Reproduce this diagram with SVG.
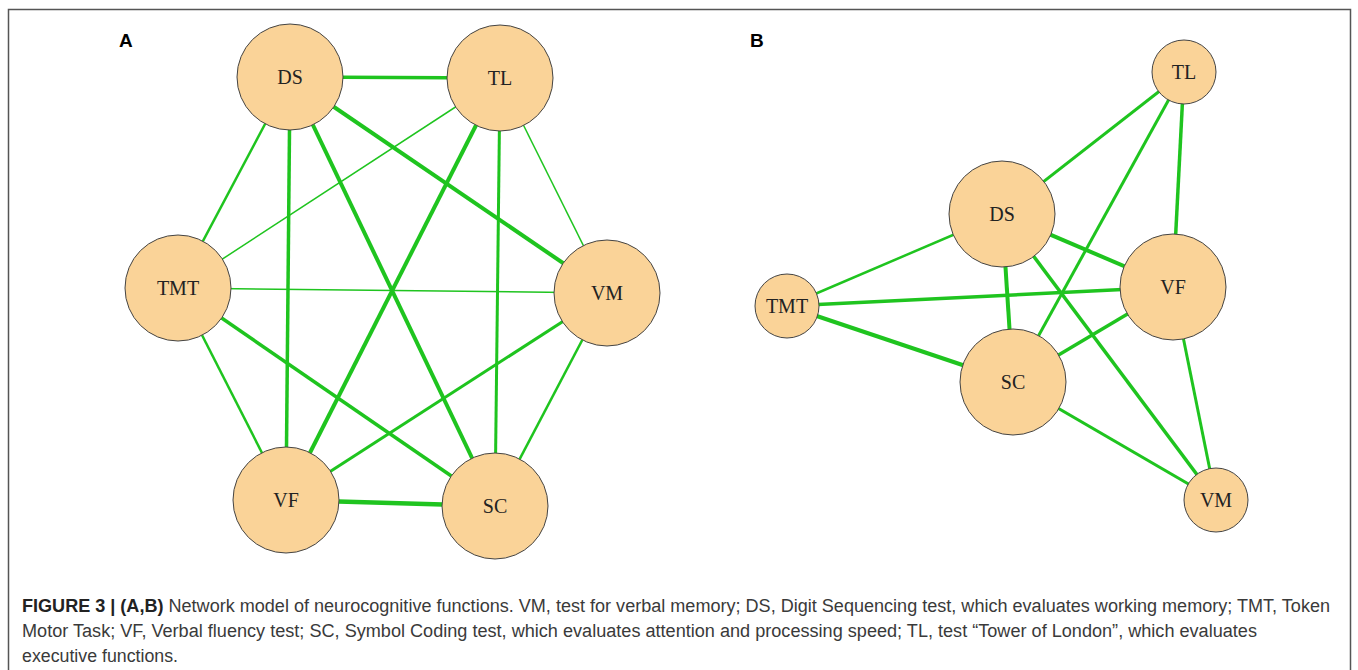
<svg xmlns="http://www.w3.org/2000/svg" width="1358" height="670" viewBox="0 0 1358 670">
<style>
.e{stroke:#1fc41f;fill:none;stroke-linecap:butt}
.n{fill:#fad398;stroke:#444;stroke-width:1}
.l{font-family:"Liberation Serif",serif;font-size:20px;fill:#222;text-anchor:middle}
.p{font-family:"Liberation Sans",Arial,sans-serif;font-size:19px;font-weight:bold;fill:#000}
.c{font-family:"Liberation Sans",Arial,sans-serif;font-size:18px;fill:#3a3a3a}
</style>
<rect width="1358" height="670" fill="#fff"/>
<path d="M8.5,672 V9.5 H1350.5 V672" fill="none" stroke="#555" stroke-width="1.5"/>
<text class="p" x="119" y="47">A</text>
<text class="p" x="750" y="47">B</text>
<g id="connectors">
<g id="edges-A">
<line class="e" x1="290" y1="77" x2="500" y2="78" stroke-width="3.5"/>
<line class="e" x1="290" y1="77" x2="178" y2="288" stroke-width="2.5"/>
<line class="e" x1="290" y1="77" x2="286" y2="500" stroke-width="3.5"/>
<line class="e" x1="290" y1="77" x2="495" y2="506" stroke-width="4"/>
<line class="e" x1="290" y1="77" x2="607" y2="293" stroke-width="4"/>
<line class="e" x1="500" y1="78" x2="178" y2="288" stroke-width="1.5"/>
<line class="e" x1="500" y1="78" x2="286" y2="500" stroke-width="4"/>
<line class="e" x1="500" y1="78" x2="495" y2="506" stroke-width="3"/>
<line class="e" x1="500" y1="78" x2="607" y2="293" stroke-width="1.5"/>
<line class="e" x1="178" y1="288" x2="607" y2="293" stroke-width="1.5"/>
<line class="e" x1="178" y1="288" x2="495" y2="506" stroke-width="3.5"/>
<line class="e" x1="178" y1="288" x2="286" y2="500" stroke-width="2.5"/>
<line class="e" x1="607" y1="293" x2="286" y2="500" stroke-width="3"/>
<line class="e" x1="607" y1="293" x2="495" y2="506" stroke-width="2.5"/>
<line class="e" x1="286" y1="500" x2="495" y2="506" stroke-width="4.5"/>
</g>
<g id="edges-B">
<line class="e" x1="1184" y1="72" x2="1002" y2="214" stroke-width="3"/>
<line class="e" x1="1184" y1="72" x2="1013" y2="382" stroke-width="3"/>
<line class="e" x1="1184" y1="72" x2="1173" y2="287" stroke-width="3.5"/>
<line class="e" x1="1002" y1="214" x2="787" y2="306" stroke-width="2.5"/>
<line class="e" x1="1002" y1="214" x2="1173" y2="287" stroke-width="4"/>
<line class="e" x1="1002" y1="214" x2="1013" y2="382" stroke-width="4"/>
<line class="e" x1="1002" y1="214" x2="1216" y2="500" stroke-width="3.5"/>
<line class="e" x1="787" y1="306" x2="1173" y2="287" stroke-width="3.5"/>
<line class="e" x1="787" y1="306" x2="1013" y2="382" stroke-width="4"/>
<line class="e" x1="1173" y1="287" x2="1013" y2="382" stroke-width="3.5"/>
<line class="e" x1="1173" y1="287" x2="1216" y2="500" stroke-width="3"/>
<line class="e" x1="1013" y1="382" x2="1216" y2="500" stroke-width="3"/>
</g>
</g>
<g id="A-DS"><ellipse class="n" cx="290" cy="77" rx="53" ry="53"/><text class="l" x="290" y="84">DS</text></g>
<g id="A-TL"><ellipse class="n" cx="500" cy="78" rx="53" ry="53"/><text class="l" x="500" y="85">TL</text></g>
<g id="A-TMT"><ellipse class="n" cx="178" cy="288" rx="53" ry="53"/><text class="l" x="178" y="295">TMT</text></g>
<g id="A-VM"><ellipse class="n" cx="607" cy="293" rx="53" ry="53"/><text class="l" x="607" y="300">VM</text></g>
<g id="A-VF"><ellipse class="n" cx="286" cy="500" rx="53" ry="53"/><text class="l" x="286" y="507">VF</text></g>
<g id="A-SC"><ellipse class="n" cx="495" cy="506" rx="53" ry="53"/><text class="l" x="495" y="513">SC</text></g>
<g id="B-TL"><ellipse class="n" cx="1184" cy="72" rx="32" ry="32"/><text class="l" x="1184" y="79">TL</text></g>
<g id="B-DS"><ellipse class="n" cx="1002" cy="214" rx="53" ry="53"/><text class="l" x="1002" y="221">DS</text></g>
<g id="B-VF"><ellipse class="n" cx="1173" cy="287" rx="53" ry="53"/><text class="l" x="1173" y="294">VF</text></g>
<g id="B-TMT"><ellipse class="n" cx="787" cy="306" rx="32" ry="32"/><text class="l" x="787" y="313">TMT</text></g>
<g id="B-SC"><ellipse class="n" cx="1013" cy="382" rx="53" ry="53"/><text class="l" x="1013" y="389">SC</text></g>
<g id="B-VM"><ellipse class="n" cx="1216" cy="500" rx="32" ry="32"/><text class="l" x="1216" y="507">VM</text></g>
<g id="caption">
<text class="c" x="22" y="612" textLength="1308" lengthAdjust="spacingAndGlyphs"><tspan font-weight="bold" fill="#222">FIGURE 3 | (A,B)</tspan> Network model of neurocognitive functions. VM, test for verbal memory; DS, Digit Sequencing test, which evaluates working memory; TMT, Token</text>
<text class="c" x="22" y="637" textLength="1235" lengthAdjust="spacingAndGlyphs">Motor Task; VF, Verbal fluency test; SC, Symbol Coding test, which evaluates attention and processing speed; TL, test “Tower of London”, which evaluates</text>
<text class="c" x="22" y="662" textLength="156" lengthAdjust="spacingAndGlyphs">executive functions.</text>
</g>
</svg>
